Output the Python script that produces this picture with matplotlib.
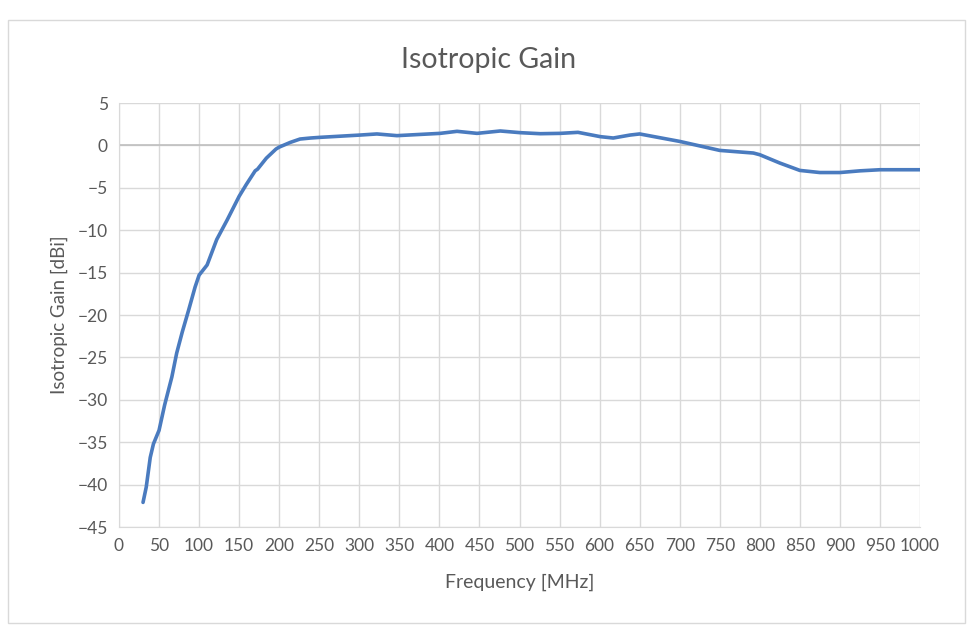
import matplotlib.pyplot as plt
from matplotlib.patches import Rectangle

# data
freq_mhz = [30, 34, 39, 43, 50, 57, 66, 72, 79, 87, 95, 100, 110, 122, 135, 150, 159,
            170, 173, 184, 196, 200, 214, 226, 239, 251, 301, 322, 347, 401, 422, 447,
            476, 501, 526, 551, 573, 601, 617, 638, 650, 700, 750, 792, 800, 825, 850,
            875, 900, 925, 950, 1000]
gain_dbi = [-42.1, -40.3, -36.8, -35.2, -33.6, -30.6, -27.3, -24.5, -22.0, -19.4, -16.7,
            -15.3, -14.1, -11.1, -8.8, -6.0, -4.6, -3.0, -2.8, -1.5, -0.43, -0.2, 0.36,
            0.75, 0.87, 0.95, 1.22, 1.35, 1.15, 1.42, 1.66, 1.42, 1.7, 1.5, 1.38, 1.42,
            1.54, 1.03, 0.87, 1.22, 1.35, 0.47, -0.59, -0.9, -1.1, -2.08, -2.95, -3.2,
            -3.2, -3.0, -2.87, -2.87]

x_ticks = list(range(0, 1001, 50))
y_ticks = list(range(-45, 6, 5))

plt.rcParams['font.family'] = ['Lato', 'DejaVu Sans']
txt = '#595959'

fig = plt.figure(figsize=(9.78, 6.35), dpi=100)
fig.patches.append(Rectangle((8 / 978, 12 / 635), 957 / 978, 603 / 635,
                             transform=fig.transFigure, fill=False,
                             edgecolor='#d9d9d9', linewidth=1))
ax = fig.add_axes([119 / 978, 1 - 527 / 635, 801 / 978, 424 / 635])

ax.plot(freq_mhz, gain_dbi, color='#4a7bbf', linewidth=2.6,
        solid_capstyle='round', solid_joinstyle='round')

ax.set_xlim(0, 1000)
ax.set_ylim(-45, 5)
ax.set_xticks(x_ticks)
ax.set_yticks(y_ticks)
ax.grid(True, color='#d9d9d9', linewidth=1)
ax.set_axisbelow(True)
ax.axhline(0, color='#bfbfbf', linewidth=1.2, zorder=1)
for s in ax.spines.values():
    s.set_visible(False)
ax.spines['left'].set_visible(True)
ax.spines['left'].set_color('#d9d9d9')
ax.spines['bottom'].set_visible(True)
ax.spines['bottom'].set_color('#d9d9d9')
ax.tick_params(length=0, colors=txt, labelsize=12.5, pad=8)

fig.text(0.5, 1 - 60 / 635, 'Isotropic Gain', fontsize=20.5, color=txt,
         ha='center', va='center')
ax.set_xlabel('Frequency [MHz]', fontsize=14, color=txt, labelpad=14)
ax.set_ylabel('Isotropic Gain [dBi]', fontsize=13.5, color=txt, labelpad=7)

plt.savefig('out.png', dpi=100)
